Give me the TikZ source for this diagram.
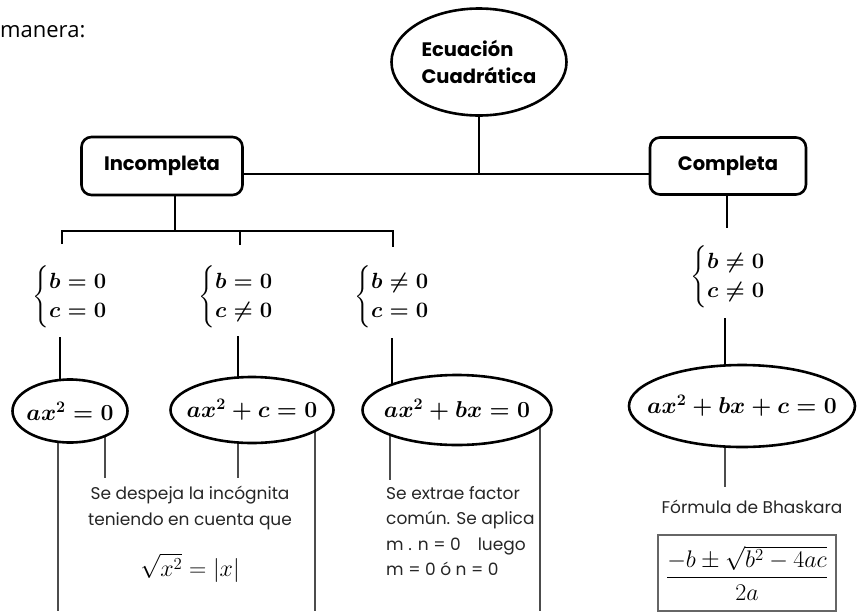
\documentclass[tikz,border=0pt]{standalone}
\usepackage{fix-cm}
\usepackage{amsmath}
\usepackage{fontspec}
\setmainfont{Poppins}
\newfontfamily\introfont{Open Sans}
\usetikzlibrary{shapes.geometric,backgrounds}

\begin{document}
\begin{tikzpicture}[x=1pt,y=-1pt,
  every node/.style={inner sep=0pt},
  tit/.style={font=\fontsize{19.5}{27}\selectfont\bfseries},
  caja/.style={draw,line width=2.6pt,rounded corners=10pt,tit},
  ovalo/.style={ellipse,draw,line width=2.6pt,fill=white,inner sep=-40pt},
  cond/.style={font=\fontsize{22}{29}\selectfont\boldmath},
  ecu/.style={font=\fontsize{23}{26}\selectfont\boldmath},
  nota/.style={font=\fontsize{17}{25.5}\selectfont,text=black!85},
  linea/.style={line width=2.6pt},
  fina/.style={line width=1.3pt,black!70}]
\useasboundingbox (0,0) rectangle (860,611);
\node[font=\introfont\fontsize{22}{26}\selectfont,anchor=base west] (intro) at (0,37) {manera:};

% nodos principales
\node[ellipse,draw,line width=2.6pt,tit,align=left,minimum width=175pt,minimum height=107pt] (raiz) at (479,62) {Ecuación\\Cuadrática};
\node[caja,minimum width=161pt,minimum height=58pt] (inc) at (162,166) {Incompleta};
\node[caja,minimum width=156pt,minimum height=57pt] (comp) at (728,166) {Completa};

% condiciones
\node[cond] (c1) at (70,297) {$\left\{\begin{array}{@{}l@{}} b=0\\ c=0\end{array}\right.$};
\node[cond] (c2) at (236,297) {$\left\{\begin{array}{@{}l@{}} b=0\\ c\neq0\end{array}\right.$};
\node[cond] (c3) at (392,297) {$\left\{\begin{array}{@{}l@{}} b\neq0\\ c=0\end{array}\right.$};
\node[cond] (c4) at (728,277) {$\left\{\begin{array}{@{}l@{}} b\neq0\\ c\neq0\end{array}\right.$};

% ecuaciones
\node[ovalo,ecu,minimum width=115pt,minimum height=63pt] (e1) at (70,411) {$ax^2=0$};
\node[ovalo,ecu,minimum width=163pt,minimum height=66pt] (e2) at (252,410) {$ax^2+c=0$};
\node[ovalo,ecu,minimum width=189pt,minimum height=70pt] (e3) at (457,410) {$ax^2+bx=0$};
\node[ovalo,ecu,minimum width=226pt,minimum height=82pt] (e4) at (742,406) {$ax^2+bx+c=0$};

% explicaciones
\node[nota,align=center] (d1) at (190,508) {Se despeja la incógnita\\teniendo en cuenta que};
\node[font=\fontsize{24}{28}\selectfont] (r1) at (190,568) {$\sqrt{x^2}=|x|$};
\node[nota,align=left,anchor=north west] (d2) at (386,486) {Se extrae factor\\común. Se aplica\\m . n = 0\quad luego\\m = 0 ó n = 0};
\node[nota] (bh) at (752,507) {Fórmula de Bhaskara};
\node[draw=black!60,line width=1.5pt,minimum width=178pt,minimum height=76pt,font=\fontsize{24}{28}\selectfont] (fb) at (747,573) {$\dfrac{-b\pm\sqrt{b^2-4ac}}{2a}$};

\coordinate (barra) at (479,174);
\coordinate (horq) at (175,231);
\coordinate (k1) at (62,244);
\coordinate (k2) at (240,245);
\coordinate (k3) at (393,247);
\coordinate (kc) at (727,228);
\coordinate (u1) at (60,337);
\coordinate (u2) at (238,336);
\coordinate (u3) at (392,338);
\coordinate (u4) at (725,318);
\coordinate (b1) at (58,611);
\coordinate (b2) at (105,478);
\coordinate (b3) at (238,478);
\coordinate (b4) at (315,611);
\coordinate (b5) at (390,480);
\coordinate (b6) at (540,611);
\coordinate (b7) at (725,487);

\begin{pgfonlayer}{background}
\draw[linea] (raiz) -- (barra);
\draw[linea] (inc.east |- barra) -- (comp.west |- barra);
\draw[linea] (inc.south -| horq) -- (horq);
\draw[linea] (k1) -- (k1 |- horq) -- (k3 |- horq) -- (k3);
\draw[linea] (k2) -- (k2 |- horq);
\draw[linea] (comp.south -| kc) -- (kc);
\draw[linea] (u1) -- (u1 |- e1);
\draw[linea] (u2) -- (u2 |- e2);
\draw[linea] (u3) -- (u3 |- e3);
\draw[linea] (u4) -- (u4 |- e4);
\draw[fina] (b1 |- e1) -- (b1);
\draw[fina] (b2 |- e1) -- (b2);
\draw[fina] (b3 |- e2) -- (b3);
\draw[fina] (b4 |- e2) -- (b4);
\draw[fina] (b5 |- e3) -- (b5);
\draw[fina] (b6 |- e3) -- (b6);
\draw[fina] (b7 |- e4) -- (b7);
\end{pgfonlayer}
\end{tikzpicture}
\end{document}
